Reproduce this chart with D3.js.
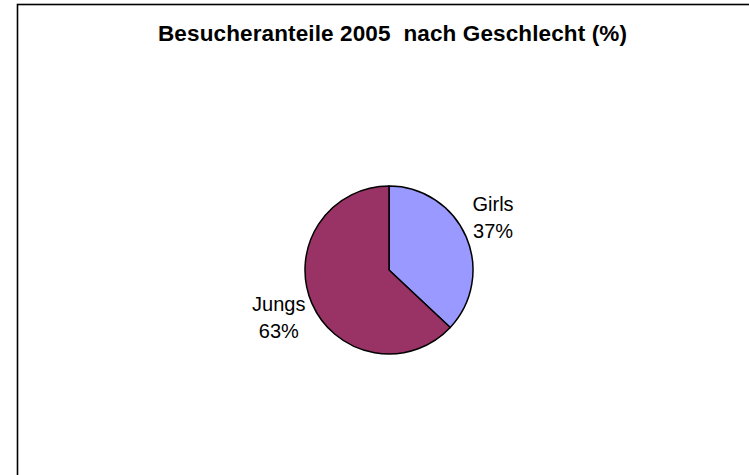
<!DOCTYPE html>
<html>
<head>
<meta charset="utf-8">
<script src="https://cdn.jsdelivr.net/npm/d3@7"></script>
<style>
  body { margin: 0; background: #fff; }
  svg { display: block; font-family: 'Liberation Sans', Arial, sans-serif; }
</style>
</head>
<body>
<svg id="chart"></svg>
<script>
// chart values
const categories = ['Girls', 'Jungs'];
const shares = [37, 63];
const colors = ['#9999FF', '#993366'];
const title = 'Besucheranteile 2005\u00a0 nach Geschlecht (%)';

const width = 749;
const height = 475;

const cx = 389;
const cy = 270;
const radius = 84;

const svg = d3.select('#chart')
  .attr('width', width)
  .attr('height', height);

// chart frame (runs off the right and bottom of the picture)
svg.append('rect')
  .attr('x', 17.5)
  .attr('y', 4.5)
  .attr('width', 760)
  .attr('height', 500)
  .attr('fill', '#fff')
  .attr('stroke', '#000')
  .attr('stroke-width', 1.6);

svg.append('text')
  .attr('x', 392.5)
  .attr('y', 41)
  .attr('text-anchor', 'middle')
  .attr('font-weight', 'bold')
  .attr('font-size', 22.5)
  .attr('textLength', 469)
  .attr('lengthAdjust', 'spacing')
  .text(title);

const data = categories.map((c, i) => ({ name: c, value: shares[i], color: colors[i] }));

const pie = d3.pie()
  .sort(null)
  .value((d) => d.value);

const arc = d3.arc().innerRadius(0).outerRadius(radius);

const g = svg.append('g').attr('transform', `translate(${cx},${cy})`);

const arcs = pie(data);

g.selectAll('path')
  .data(arcs)
  .join('path')
  .attr('d', arc)
  .attr('fill', (d) => d.data.color)
  .attr('stroke', '#000')
  .attr('stroke-width', 1.5)
  .attr('stroke-linejoin', 'round');

const total = d3.sum(shares);

// outside-end labels: inner edge of the label block sits just off the pie,
// lines are centred in the block
const labels = g.selectAll('g.label')
  .data(arcs)
  .join('g')
  .attr('class', 'label');

labels.each(function (d) {
  const mid = (d.startAngle + d.endAngle) / 2;
  const sx = Math.sin(mid);
  const edgeX = 91 * sx;
  const midY = -127 * Math.cos(mid);

  const t = d3.select(this)
    .append('text')
    .attr('text-anchor', 'middle')
    .attr('font-size', 20);

  const l1 = t.append('tspan').attr('y', midY - 9).text(d.data.name);
  const l2 = t.append('tspan').attr('y', midY + 18)
    .text(Math.round((d.value / total) * 100) + '%');

  const w = Math.max(l1.node().getComputedTextLength(), l2.node().getComputedTextLength());
  const centerX = sx >= 0 ? edgeX + w / 2 : edgeX - w / 2;
  l1.attr('x', centerX);
  l2.attr('x', centerX);
});
</script>
</body>
</html>
